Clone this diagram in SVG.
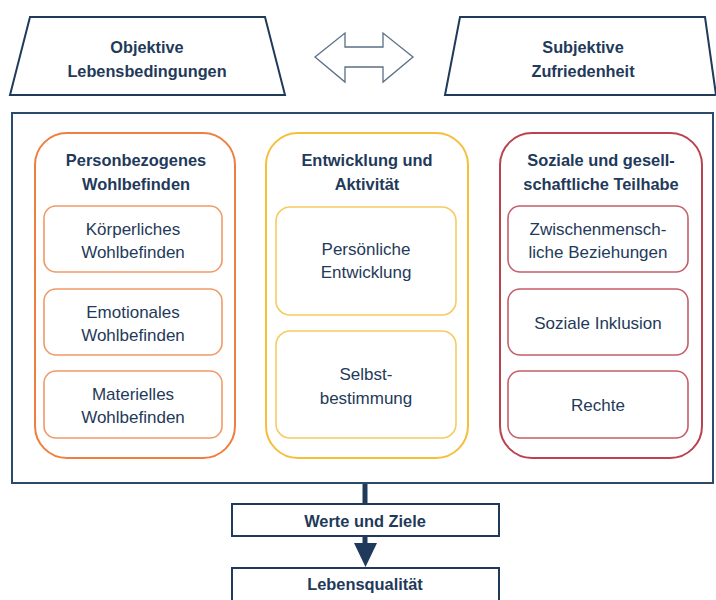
<svg xmlns="http://www.w3.org/2000/svg" width="716" height="600" viewBox="0 0 716 600">
<defs>
<style>
text{font-family:"Liberation Sans",Arial,sans-serif;fill:#1f3a5a;text-anchor:middle}
.t{font-size:16.3px;font-weight:bold}
.h{font-size:16.4px;font-weight:bold}
.i{font-size:17px}
.frame{fill:#fff;stroke:#2c4a6a;stroke-width:2}
.dark{fill:#fff;stroke:#1f3a5a;stroke-width:2}
.o{fill:none;stroke:#ef7f3f;stroke-width:2}
.oi{fill:none;stroke:#f19a66;stroke-width:1.6}
.y{fill:none;stroke:#f5bf3a;stroke-width:2}
.yi{fill:none;stroke:#f6cc62;stroke-width:1.6}
.r{fill:none;stroke:#b9434f;stroke-width:2}
.ri{fill:none;stroke:#c45e68;stroke-width:1.6}
</style>
</defs>
<rect width="716" height="600" fill="#fff"/>
<g id="objektive">
<polygon class="dark" points="30,17 265,17 285,95 10,95"/>
<text class="t" x="147" y="53">Objektive</text>
<text class="t" x="147" y="77">Lebensbedingungen</text>
</g>
<g id="subjektive">
<polygon class="dark" points="460,17 705,17 716,95 445,95"/>
<text class="t" x="583" y="53">Subjektive</text>
<text class="t" x="583" y="77">Zufriedenheit</text>
</g>
<g id="connectors">
<polygon points="315,57 345,33 345,47 383,47 383,33 413,57 383,82 383,67 345,67 345,82" fill="#fff" stroke="#5a6f86" stroke-width="1.3"/>
<line x1="365" y1="483" x2="365" y2="504" stroke="#1f3a5a" stroke-width="5"/>
<line x1="365" y1="536" x2="365" y2="546" stroke="#1f3a5a" stroke-width="5"/>
<polygon points="354,543 377,543 365.5,567" fill="#1f3a5a"/>
</g>
<g id="main">
<rect class="frame" x="12" y="113" width="701" height="370"/>
</g>
<g id="personbezogen">
<rect class="o" x="35" y="133" width="200" height="325" rx="32"/>
<text class="h" x="136" y="166">Personbezogenes</text>
<text class="h" x="136" y="190">Wohlbefinden</text>
</g>
<g id="koerperlich">
<rect class="oi" x="44" y="206" width="178" height="66" rx="12"/>
<text class="i" x="133" y="235">Körperliches</text>
<text class="i" x="133" y="258">Wohlbefinden</text>
</g>
<g id="emotional">
<rect class="oi" x="44" y="289" width="178" height="66" rx="12"/>
<text class="i" x="133" y="318">Emotionales</text>
<text class="i" x="133" y="341">Wohlbefinden</text>
</g>
<g id="materiell">
<rect class="oi" x="44" y="371" width="178" height="67" rx="12"/>
<text class="i" x="133" y="400">Materielles</text>
<text class="i" x="133" y="423">Wohlbefinden</text>
</g>
<g id="entwicklung">
<rect class="y" x="266" y="133" width="202" height="325" rx="32"/>
<text class="h" x="367" y="166">Entwicklung und</text>
<text class="h" x="367" y="190">Aktivität</text>
</g>
<g id="persoenlich">
<rect class="yi" x="276" y="207" width="180" height="108" rx="14"/>
<text class="i" x="366" y="255">Persönliche</text>
<text class="i" x="366" y="278">Entwicklung</text>
</g>
<g id="selbstbestimmung">
<rect class="yi" x="276" y="331" width="180" height="107" rx="14"/>
<text class="i" x="366" y="380">Selbst-</text>
<text class="i" x="366" y="404">bestimmung</text>
</g>
<g id="teilhabe">
<rect class="r" x="500" y="133" width="202" height="325" rx="32"/>
<text class="h" x="601" y="166">Soziale und gesell-</text>
<text class="h" x="601" y="190">schaftliche Teilhabe</text>
</g>
<g id="beziehungen">
<rect class="ri" x="508" y="206" width="180" height="66" rx="12"/>
<text class="i" x="598" y="235">Zwischenmensch-</text>
<text class="i" x="598" y="258">liche Beziehungen</text>
</g>
<g id="inklusion">
<rect class="ri" x="508" y="289" width="180" height="66" rx="12"/>
<text class="i" x="598" y="329">Soziale Inklusion</text>
</g>
<g id="rechte">
<rect class="ri" x="508" y="371" width="180" height="67" rx="12"/>
<text class="i" x="598" y="411">Rechte</text>
</g>
<g id="werte">
<rect class="dark" x="232" y="504" width="267" height="32"/>
<text class="h" x="365" y="527">Werte und Ziele</text>
</g>
<g id="lebensqualitaet">
<rect class="dark" x="232" y="568" width="267" height="40"/>
<text class="h" x="365" y="590">Lebensqualität</text>
</g>
</svg>
